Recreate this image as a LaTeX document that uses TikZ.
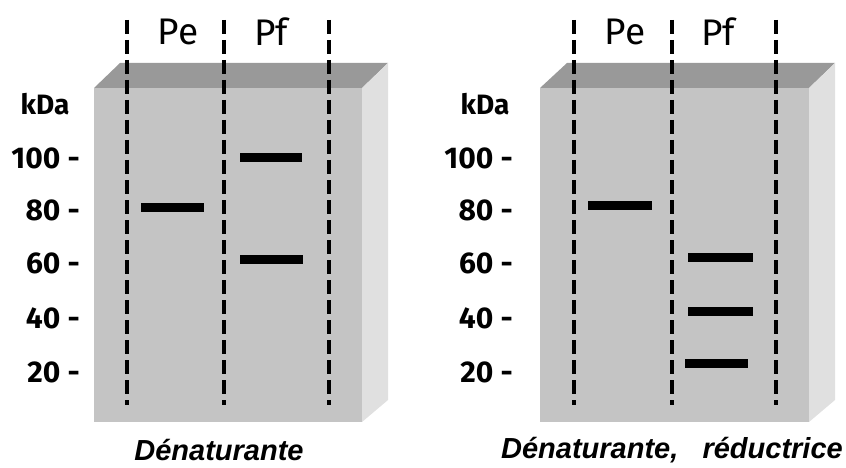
\documentclass[tikz,border=0pt]{standalone}
\usepackage{fontspec}
\setmainfont{Fira Sans}
\newfontfamily\captionfont{Liberation Sans}
\definecolor{gelfront}{HTML}{C4C4C4}
\definecolor{geltop}{HTML}{999999}
\definecolor{gelside}{HTML}{E0E0E0}
\tikzset{
  lane/.style={line width=4pt, dash pattern=on 14pt off 6pt},
  band/.style={line width=9pt},
  mass/.style={anchor=east, inner sep=0pt, font=\fontsize{30}{30}\selectfont\bfseries},
  unit/.style={inner sep=0pt, font=\fontsize{28}{28}\selectfont\bfseries},
  well/.style={inner sep=0pt, font=\fontsize{37}{37}\selectfont},
  legend/.style={inner sep=0pt, font=\captionfont\fontsize{29}{29}\selectfont\bfseries\itshape}
}

\begin{document}
\begin{tikzpicture}[x=1pt,y=-1pt]
  \useasboundingbox (0,0) rectangle (846,468);
  % left gel
  \fill[gelfront] (94,88) rectangle (362,422);
  \fill[geltop] (94,88)--(120,63)--(388,63)--(362,88)--cycle;
  \fill[gelside] (362,88)--(388,63)--(388,400)--(362,422)--cycle;
  \foreach \x in {127,224,329}
    \draw[lane] (\x,20)--(\x,405);
  \node[well] (peA) at (178,32) {Pe};
  \node[well] (pfA) at (271,32) {Pf};
  \node[unit] (kdaA) at (45,104) {kDa};
  \foreach \m/\y in {100/158,80/210,60/263,40/318,20/372}
    \node[mass] (mA\m) at (80,\y) {\m\ -};
  \draw[band] (141,207)--(204,207);
  \draw[band] (240,158)--(302,158);
  \draw[band] (240,259)--(303,259);
  \node[legend] (capA) at (219,450) {Dénaturante};
  % right gel
  \fill[gelfront] (540,88) rectangle (809,422);
  \fill[geltop] (540,88)--(567,63)--(835,63)--(809,88)--cycle;
  \fill[gelside] (809,88)--(835,63)--(835,400)--(809,422)--cycle;
  \foreach \x in {574,672,776}
    \draw[lane] (\x,20)--(\x,405);
  \node[well] (peB) at (625,32) {Pe};
  \node[well] (pfB) at (718,32) {Pf};
  \node[unit] (kdaB) at (485,104) {kDa};
  \foreach \m/\y in {100/158,80/210,60/263,40/318,20/372}
    \node[mass] (mB\m) at (513,\y) {\m\ -};
  \draw[band] (588,205)--(652,205);
  \draw[band] (688,257)--(753,257);
  \draw[band] (688,311)--(753,311);
  \draw[band] (685,363)--(748,363);
  \node[legend] (capB) at (672,450) {Dénaturante,\ \ \ réductrice};
\end{tikzpicture}
\end{document}
